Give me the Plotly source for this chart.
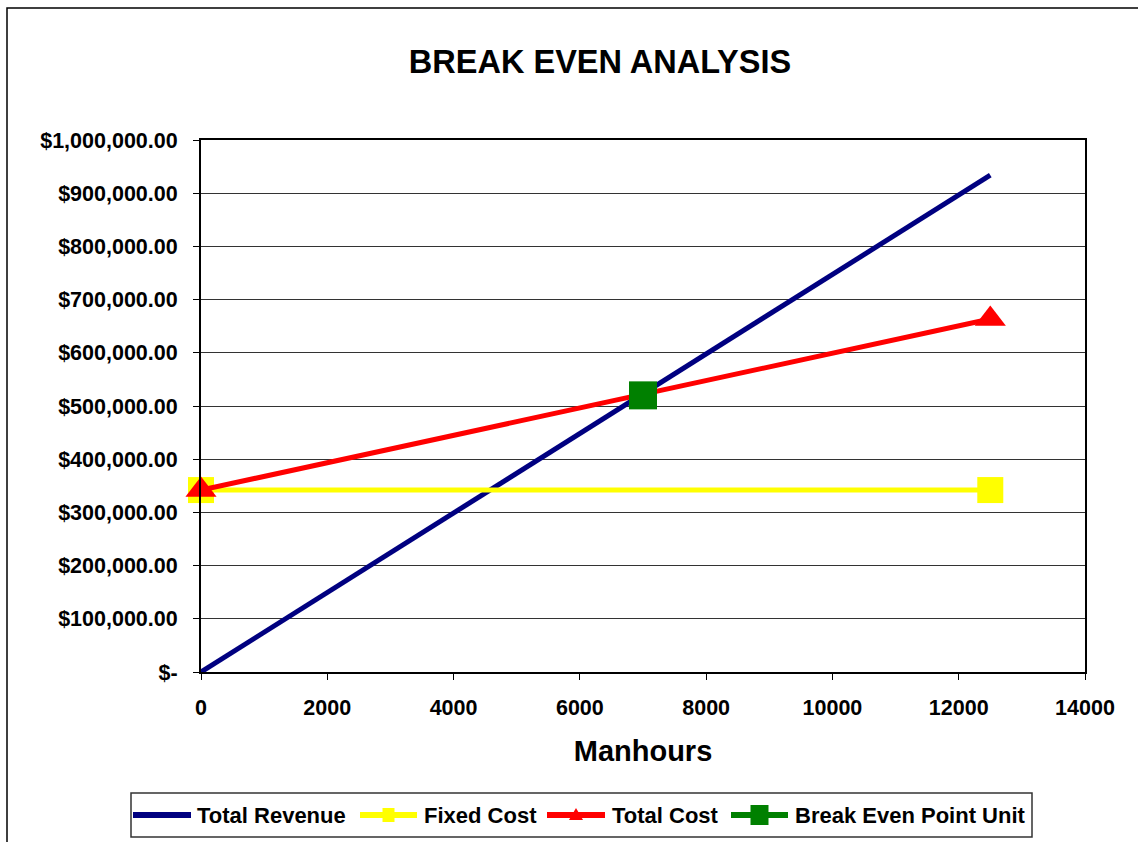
import plotly.graph_objects as go

manhours = [0, 12500]
total_revenue = [0, 934000]
fixed_cost = [342000, 342000]
total_cost = [342000, 663500]
be_x = [7000]
be_y = [520000]

series_names = ["Total Revenue", "Fixed Cost", "Total Cost", "Break Even Point Unit"]
series_colors = ["#000080", "#FFFF00", "#FF0000", "#008000"]

y_ticks = [0, 100000, 200000, 300000, 400000, 500000, 600000, 700000, 800000, 900000, 1000000]
y_labels = ["$-"] + ["${:,.2f}".format(v) for v in y_ticks[1:]]
x_ticks = [0, 2000, 4000, 6000, 8000, 10000, 12000, 14000]

FONT = "Liberation Sans, Arial, sans-serif"

# plot area in page pixels
L, R, T, B = 201, 1085, 140, 672
def px(x):
    return (x - L) / (R - L)
def py(y):
    return (B - y) / (B - T)

fig = go.Figure()
fig.add_trace(go.Scatter(x=manhours, y=total_revenue, mode="lines", name=series_names[0],
                         line=dict(color=series_colors[0], width=5), cliponaxis=False))
fig.add_trace(go.Scatter(x=manhours, y=fixed_cost, mode="lines+markers", name=series_names[1],
                         line=dict(color=series_colors[1], width=5), cliponaxis=False,
                         marker=dict(symbol="square", size=26, color=series_colors[1])))
fig.add_trace(go.Scatter(x=manhours, y=total_cost, mode="lines+markers", name=series_names[2],
                         line=dict(color=series_colors[2], width=5), cliponaxis=False,
                         marker=dict(symbol="triangle-up", size=27, color=series_colors[2])))
fig.add_trace(go.Scatter(x=be_x, y=be_y, mode="lines+markers", name=series_names[3],
                         line=dict(color=series_colors[3], width=5), cliponaxis=False,
                         marker=dict(symbol="square", size=28, color=series_colors[3])))

# custom legend (matches the spreadsheet-style legend layout)
leg_y = py(815)
sym_ranges = [(133, 191), (360, 417), (547, 605), (731, 788)]
text_x = [195, 422, 610, 793]
shapes = [
    dict(type="rect", xref="paper", yref="paper",
         x0=px(7), x1=px(1150), y0=py(860), y1=py(8),
         line=dict(color="black", width=1.5), fillcolor="rgba(0,0,0,0)", layer="below"),
    dict(type="rect", xref="paper", yref="paper",
         x0=px(131), x1=px(1032), y0=py(837), y1=py(793),
         line=dict(color="#333333", width=1.5), fillcolor="white", layer="above"),
]
annotations = []
for i, (name, col) in enumerate(zip(series_names, series_colors)):
    a, b = sym_ranges[i]
    shapes.append(dict(type="line", xref="paper", yref="paper", x0=px(a), x1=px(b),
                       y0=leg_y, y1=leg_y, line=dict(color=col, width=6), layer="above"))
    cx = px((a + b) / 2)
    if i == 1:
        shapes.append(dict(type="rect", xref="paper", yref="paper", xsizemode="pixel", ysizemode="pixel",
                           xanchor=cx, yanchor=leg_y, x0=-6, x1=6, y0=-7, y1=7,
                           line=dict(width=0), fillcolor=col, layer="above"))
    elif i == 2:
        shapes.append(dict(type="path", xref="paper", yref="paper", xsizemode="pixel", ysizemode="pixel",
                           xanchor=cx, yanchor=leg_y, path="M -7 -5 L 7 -5 L 0 7 Z",
                           line=dict(width=0), fillcolor=col, layer="above"))
    elif i == 3:
        shapes.append(dict(type="rect", xref="paper", yref="paper", xsizemode="pixel", ysizemode="pixel",
                           xanchor=cx, yanchor=leg_y, x0=-9, x1=9, y0=-10, y1=10,
                           line=dict(width=0), fillcolor=col, layer="above"))
    annotations.append(dict(text="<b>%s</b>" % name, xref="paper", yref="paper",
                            x=px(text_x[i]), y=leg_y, xanchor="left", yanchor="middle",
                            showarrow=False, font=dict(size=22, family=FONT, color="black")))

fig.update_layout(
    width=1138, height=842,
    margin=dict(l=L, r=1138 - R, t=T, b=842 - B, autoexpand=False),
    paper_bgcolor="white", plot_bgcolor="white",
    font=dict(family=FONT, color="black"),
    title=dict(text="<b>BREAK EVEN ANALYSIS</b>", font=dict(size=32.5, family=FONT, color="black"),
               x=px(600), xref="paper", xanchor="center",
               y=1 - 62 / 842, yref="container", yanchor="middle"),
    showlegend=False,
    xaxis=dict(range=[0, 14000], tickvals=x_ticks, ticktext=["<b>%d</b>" % v for v in x_ticks],
               showgrid=False, zeroline=False, showline=True, linecolor="black", linewidth=2,
               mirror=True, ticks="outside", ticklen=6, tickcolor="black",
               ticklabelstandoff=9, automargin=False,
               tickfont=dict(size=21.5, family=FONT, color="black"),
               title=dict(text="<b>Manhours</b>", font=dict(size=29, family=FONT, color="black"),
                          standoff=22)),
    yaxis=dict(range=[0, 1000000], tickvals=y_ticks, ticktext=["<b>%s</b>" % t for t in y_labels],
               showgrid=True, gridcolor="#333333", gridwidth=1, zeroline=False,
               showline=True, linecolor="black", linewidth=2, mirror=True,
               ticks="outside", ticklen=6, tickcolor="black",
               ticklabelstandoff=11, automargin=False,
               tickfont=dict(size=21.5, family=FONT, color="black")),
    shapes=shapes,
    annotations=annotations,
)

fig.write_html("out.html", config={"displayModeBar": False},
               post_script="document.body.style.margin='0px';document.body.style.overflow='hidden';")
